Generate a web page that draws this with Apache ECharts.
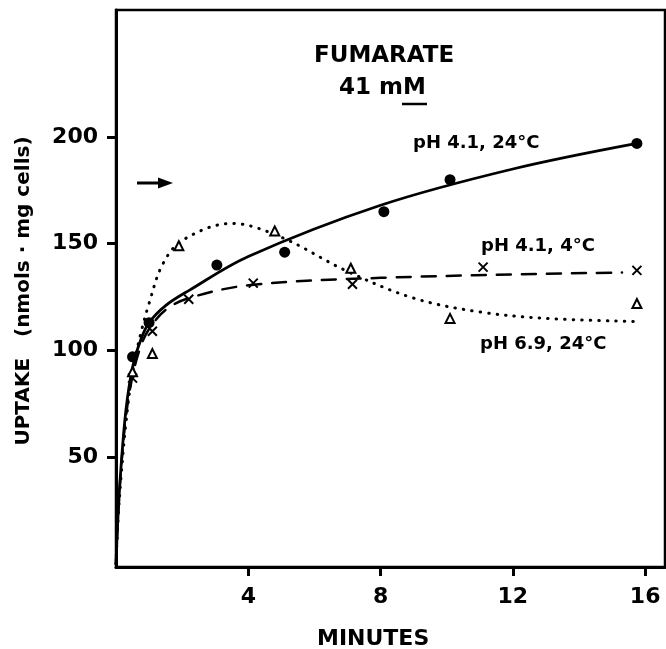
<!DOCTYPE html>
<html>
<head>
<meta charset="utf-8">
<script src="https://cdn.jsdelivr.net/npm/echarts@6/dist/echarts.min.js"></script>
<style>
html, body { margin: 0; padding: 0; background: #fff; }
#chart { width: 666px; height: 649px; }
</style>
</head>
<body>
<div id="chart"></div>
<script>
// measured points (minutes, nmol/mg cells)
var ph41_24_points = [[0.5, 97], [1.0, 113], [3.05, 140], [5.1, 146], [8.1, 165], [10.1, 180], [15.75, 197]];
var ph41_4_points = [[0.5, 87], [1.1, 109], [2.2, 124], [4.15, 131.5], [7.15, 131], [11.1, 139], [15.75, 137.5]];
var ph69_24_points = [[0.5, 90], [1.1, 98.5], [1.9, 149], [4.8, 156], [7.1, 138.5], [10.1, 115], [15.75, 122]];

// fitted curves drawn through the points
var ph41_24_curve = [[0, 0], [0.06, 22], [0.15, 45], [0.3, 72], [0.5, 92], [0.75, 105], [1, 113], [1.5, 121],
    [2.2, 128], [4, 144], [8, 168], [12, 185], [15.75, 197]];
var ph41_4_curve = [[0, 0], [0.06, 22], [0.15, 44], [0.3, 69], [0.5, 88], [0.75, 102], [1, 110], [1.5, 119],
    [2.2, 124.5], [4, 130.5], [8, 134], [15.3, 136.5]];
var ph69_24_curve = [[0, 0], [0.06, 20], [0.15, 40], [0.3, 66], [0.5, 90], [0.75, 108], [1, 122], [1.4, 140],
    [2, 151.5], [3.5, 159.5], [5, 153], [7, 137], [9, 124.5], [11, 118], [13, 115], [15.75, 113.5]];

var xTicks = [4, 8, 12, 16];
var yTicks = [50, 100, 150, 200];

var FONT = "DejaVu Sans";
var xMark = 'path://M0,0L10,10M10,0L0,10';

var chart = echarts.init(document.getElementById('chart'), null, {renderer: 'canvas'});

function curve(data, type, width) {
    return {
        type: 'line', data: data, smooth: 0.35, showSymbol: false, silent: true,
        lineStyle: {color: '#000', width: width, type: type, cap: 'round'}, z: 2
    };
}

var option = {
    backgroundColor: '#fff',
    animation: false,
    grid: {left: 116, right: 1, top: 10, bottom: 82, show: true, borderColor: '#000', borderWidth: 2.5},
    xAxis: {
        type: 'value', min: 0, max: 16.6,
        axisLine: {show: true, onZero: false, lineStyle: {color: '#000', width: 3}},
        axisTick: {show: true, customValues: xTicks, length: 9, lineStyle: {color: '#000', width: 3}},
        axisLabel: {customValues: xTicks, margin: 19, color: '#000', fontFamily: FONT, fontWeight: 'bold', fontSize: 22},
        splitLine: {show: false}
    },
    yAxis: {
        type: 'value', min: -1.5, max: 259.5,
        axisLine: {show: true, onZero: false, lineStyle: {color: '#000', width: 3}},
        axisTick: {show: true, customValues: yTicks, length: 9, lineStyle: {color: '#000', width: 3}},
        axisLabel: {customValues: yTicks, margin: 18, color: '#000', fontFamily: FONT, fontWeight: 'bold', fontSize: 22},
        splitLine: {show: false}
    },
    series: [
        curve(ph41_24_curve, 'solid', 2.8),
        curve(ph41_4_curve, [14, 11], 2.5),
        curve(ph69_24_curve, [0.5, 8], 3),
        {
            name: 'pH 4.1, 24°C', type: 'scatter', data: ph41_24_points, symbol: 'circle', symbolSize: 11,
            itemStyle: {color: '#000', opacity: 1}, z: 3
        },
        {
            name: 'pH 4.1, 4°C', type: 'scatter', data: ph41_4_points, symbol: xMark, symbolSize: 9,
            itemStyle: {color: 'none', borderColor: '#000', borderWidth: 2, opacity: 1}, z: 3
        },
        {
            name: 'pH 6.9, 24°C', type: 'scatter', data: ph69_24_points, symbol: 'triangle', symbolSize: 9,
            itemStyle: {color: '#fff', borderColor: '#000', borderWidth: 2, opacity: 1}, z: 3
        }
    ],
    graphic: [
        {type: 'text', left: 314, top: 45, style: {text: 'FUMARATE', font: 'bold 23px "DejaVu Sans"', fill: '#000'}},
        {type: 'text', left: 339, top: 77, style: {text: '41 mM', font: 'bold 23px "DejaVu Sans"', fill: '#000'}},
        {type: 'line', shape: {x1: 402, y1: 104, x2: 427, y2: 104}, style: {stroke: '#000', lineWidth: 2.5}},
        {type: 'text', left: 413, top: 134, style: {text: 'pH 4.1, 24°C', font: 'bold 18px "DejaVu Sans"', fill: '#000'}},
        {type: 'text', left: 481, top: 237, style: {text: 'pH 4.1, 4°C', font: 'bold 18px "DejaVu Sans"', fill: '#000'}},
        {type: 'text', left: 480, top: 335, style: {text: 'pH 6.9, 24°C', font: 'bold 18px "DejaVu Sans"', fill: '#000'}},
        {type: 'line', shape: {x1: 137, y1: 183, x2: 160, y2: 183}, style: {stroke: '#000', lineWidth: 3}},
        {type: 'polygon', shape: {points: [[158, 177.5], [173, 183], [158, 188.5]]}, style: {fill: '#000'}},
        {type: 'text', left: 317, top: 628, style: {text: 'MINUTES', font: 'bold 22px "DejaVu Sans"', fill: '#000'}},
        {
            type: 'text', x: 24, y: 291, rotation: Math.PI / 2,
            style: {text: 'UPTAKE   (nmols · mg cells)', font: 'bold 20px "DejaVu Sans"', fill: '#000', align: 'center', verticalAlign: 'middle'}
        }
    ]
};

chart.setOption(option);
</script>
</body>
</html>
